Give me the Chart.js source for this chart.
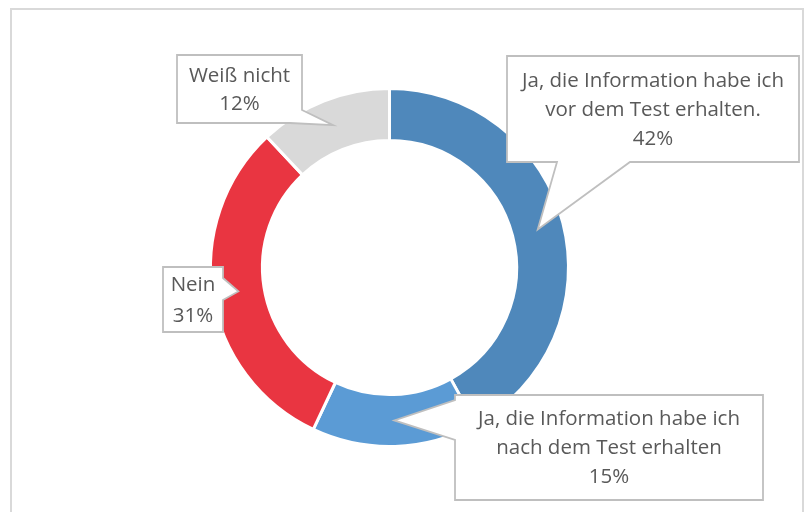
<!DOCTYPE html>
<html>
<head>
<meta charset="utf-8">
<script src="https://cdn.jsdelivr.net/npm/chart.js@4/dist/chart.umd.min.js"></script>
<style>
  html, body { margin: 0; padding: 0; background: #fff; }
  #wrap { width: 808px; height: 512px; }
</style>
</head>
<body>
<div id="wrap"><canvas id="mychart" width="808" height="512"></canvas></div>
<script>
// Antworten (Reihenfolge im Uhrzeigersinn ab 12 Uhr)
const categories = [
  "Ja, die Information habe ich vor dem Test erhalten.",
  "Ja, die Information habe ich nach dem Test erhalten",
  "Nein",
  "Weiß nicht"
];
const labelLines = [
  ["Ja, die Information habe ich", "vor dem Test erhalten."],
  ["Ja, die Information habe ich", "nach dem Test erhalten"],
  ["Nein"],
  ["Weiß nicht"]
];
const values = [42, 15, 31, 12];
const colors = ["#4F88BB", "#5B9BD5", "#E93541", "#D9D9D9"];

// Sprechblasen: Rechteck + Umriss, "tip" wird durch die Bogenmitte ersetzt
const callouts = [
  { x: 507, y: 56, w: 292, h: 106, lh: 29,
    path: [[507, 56], [799, 56], [799, 162], [630, 162], "tip", [557, 162], [507, 162]] },
  { x: 455, y: 395, w: 308, h: 105, lh: 29,
    path: [[455, 395], [763, 395], [763, 500], [455, 500], [455, 440], "tip", [455, 400]] },
  { x: 163, y: 267, w: 60, h: 65, lh: 31,
    path: [[163, 267], [223, 267], [223, 278], "tip", [223, 300], [223, 332], [163, 332]] },
  { x: 177, y: 55, w: 125, h: 68, lh: 28,
    path: [[177, 55], [302, 55], [302, 110], "tip", [290, 123], [177, 123]] }
];

const framePlugin = {
  id: "frame",
  beforeDraw(chart) {
    const c = chart.ctx;
    c.save();
    c.strokeStyle = "#D9D9D9";
    c.lineWidth = 2;
    c.strokeRect(11, 9, 792, 520);
    c.restore();
  }
};

const calloutPlugin = {
  id: "callouts",
  afterDatasetsDraw(chart) {
    const c = chart.ctx;
    const arcs = chart.getDatasetMeta(0).data;
    c.save();
    callouts.forEach((b, i) => {
      const tip = arcs[i].tooltipPosition();
      c.beginPath();
      b.path.forEach((p, k) => {
        const pt = p === "tip" ? [tip.x, tip.y] : p;
        if (k === 0) c.moveTo(pt[0], pt[1]);
        else c.lineTo(pt[0], pt[1]);
      });
      c.closePath();
      c.fillStyle = "#fff";
      c.fill();
      c.strokeStyle = "#BFBFBF";
      c.lineWidth = 1.8;
      c.stroke();

      const lines = labelLines[i].concat([values[i] + "%"]);
      c.fillStyle = "#595959";
      c.font = "20.5px 'Open Sans'";
      c.textAlign = "center";
      c.textBaseline = "middle";
      const cx = b.x + b.w / 2;
      const cy = b.y + b.h / 2 + 1;
      const top = cy - (lines.length - 1) * b.lh / 2;
      lines.forEach((t, k) => c.fillText(t, cx, top + k * b.lh));
    });
    c.restore();
  }
};

const ctx = document.getElementById("mychart").getContext("2d");
const mychart = new Chart(ctx, {
  type: "doughnut",
  data: {
    labels: categories,
    datasets: [{
      data: values,
      backgroundColor: colors,
      borderColor: "#fff",
      borderWidth: 3,
      hoverOffset: 0
    }]
  },
  options: {
    responsive: false,
    animation: false,
    cutout: "71%",
    layout: { padding: { top: 87, bottom: 64, left: 209, right: 238 } },
    plugins: {
      legend: { display: false },
      tooltip: { enabled: false }
    }
  },
  plugins: [framePlugin, calloutPlugin]
});
</script>
</body>
</html>
